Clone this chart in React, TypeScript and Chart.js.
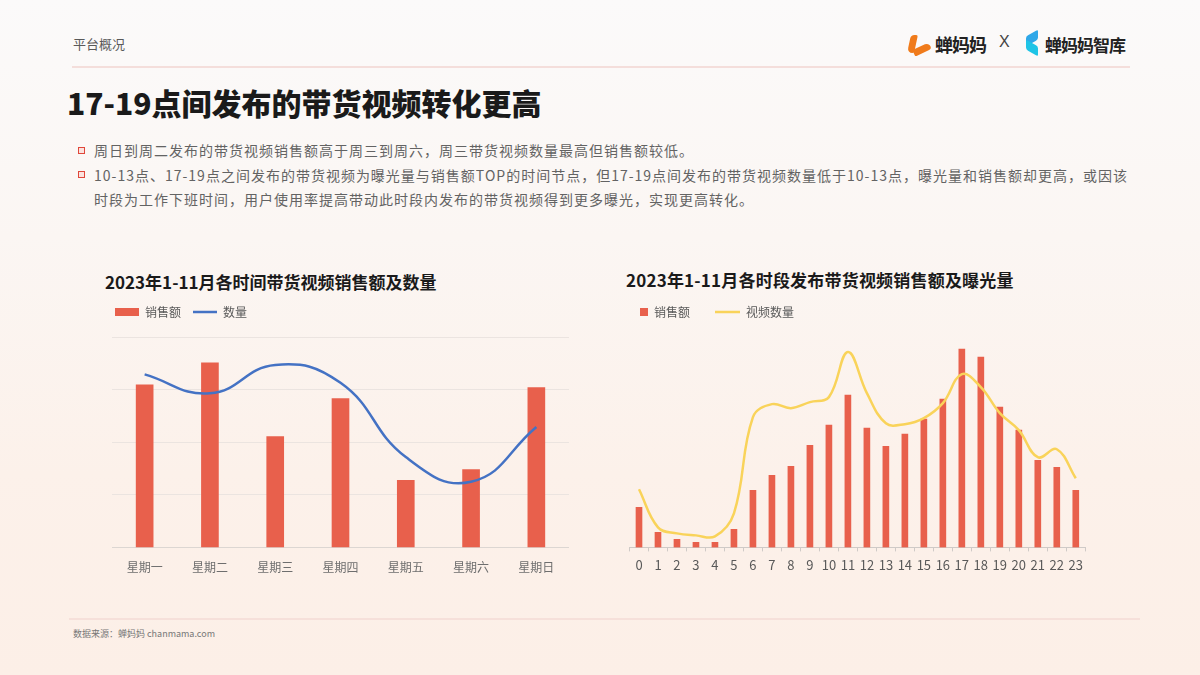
import React, { useEffect, useRef } from "react";
import { Chart, registerables } from "chart.js";

Chart.register(...registerables);

const FONT = "'Noto Sans CJK SC', 'Noto Sans', sans-serif";

// ---- Left chart data (relative units) ----
const weekdays = ["星期一", "星期二", "星期三", "星期四", "星期五", "星期六", "星期日"];
const weekdaySales = [3.09, 3.51, 2.11, 2.83, 1.28, 1.48, 3.04];
const weekdayCount = [3.29, 2.93, 3.47, 3.13, 1.72, 1.25, 2.29];
const weekdayLegend = ["销售额", "数量"];

// ---- Right chart data (relative units) ----
const hours = ["0", "1", "2", "3", "4", "5", "6", "7", "8", "9", "10", "11", "12", "13", "14", "15", "16", "17", "18", "19", "20", "21", "22", "23"];
const hourSales = [40, 15, 8, 5, 5, 18, 57, 72, 81, 102, 122, 152, 119, 101, 113, 128, 148, 198, 190, 140, 117, 87, 80, 57];
const hourCount = [58, 20, 14, 12, 11, 34, 130, 143, 139, 145, 150, 195, 154, 124, 123, 129, 144, 173, 160, 134, 117, 90, 98, 69];
const hourLegend = ["销售额", "视频数量"];

const RED = "#E8604C";
const BLUE = "#4472C4";
const YELLOW = "#F9D35A";

function legendLabels(barStyle: any) {
  return (chart: any) => {
    const items = Chart.defaults.plugins.legend.labels.generateLabels(chart);
    items.sort((a: any, b: any) => a.datasetIndex - b.datasetIndex);
    items.forEach((it: any) => {
      const ds = chart.data.datasets[it.datasetIndex];
      if (ds.type === "bar") {
        it.pointStyle = barStyle;
        it.fillStyle = RED;
        it.lineWidth = 0;
      } else {
        it.pointStyle = "line";
        it.strokeStyle = ds.borderColor;
        it.lineWidth = 2.5;
      }
    });
    return items;
  };
}

function WeekChart() {
  const ref = useRef<HTMLCanvasElement>(null);
  useEffect(() => {
    const chart = new Chart(ref.current!, {
      type: "bar",
      data: {
        labels: weekdays,
        datasets: [
          {
            type: "bar",
            label: weekdayLegend[0],
            data: weekdaySales,
            backgroundColor: RED,
            barThickness: 17,
            order: 1,
          },
          {
            type: "line",
            label: weekdayLegend[1],
            data: weekdayCount,
            borderColor: BLUE,
            backgroundColor: BLUE,
            borderWidth: 2.5,
            pointRadius: 0,
            tension: 0.45,
            order: 0,
          },
        ] as any,
      },
      options: {
        responsive: false,
        animation: false,
        layout: { padding: 0 },
        plugins: {
          tooltip: { enabled: false },
          legend: {
            display: true,
            position: "top",
            align: "start",
            labels: {
              usePointStyle: true,
              pointStyleWidth: 24,
              boxWidth: 24,
              boxHeight: 8,
              padding: 12,
              color: "#595959",
              font: { family: FONT, size: 12 },
              generateLabels: legendLabels("rect"),
            },
          },
        },
        scales: {
          x: {
            grid: { display: false },
            border: { display: true, color: "#dcd6d2" },
            ticks: { color: "#6e6e6e", padding: 5, font: { family: FONT, size: 12 } },
          },
          y: {
            min: 0,
            max: 4.171,
            afterFit: (s: any) => {
              s.width = 9;
            },
            ticks: { display: false, stepSize: 1, includeBounds: false },
            grid: { color: "#ebe4e0", drawTicks: false },
            border: { display: false },
          },
        },
      },
    });
    return () => chart.destroy();
  }, []);
  return <canvas ref={ref} width={466} height={286} style={{ position: "absolute", left: 103, top: 294 }} />;
}

function HourChart() {
  const ref = useRef<HTMLCanvasElement>(null);
  useEffect(() => {
    const img = document.createElement("canvas");
    img.width = 25;
    img.height = 8;
    const ictx = img.getContext("2d")!;
    ictx.fillStyle = RED;
    ictx.fillRect(17, 0, 8, 8);
    const chart = new Chart(ref.current!, {
      type: "bar",
      data: {
        labels: hours,
        datasets: [
          {
            type: "bar",
            label: hourLegend[0],
            data: hourSales,
            backgroundColor: RED,
            barThickness: 6,
            order: 1,
          },
          {
            type: "line",
            label: hourLegend[1],
            data: hourCount,
            borderColor: YELLOW,
            backgroundColor: YELLOW,
            borderWidth: 2.5,
            pointRadius: 0,
            tension: 0.4,
            order: 0,
          },
        ] as any,
      },
      options: {
        responsive: false,
        animation: false,
        layout: { padding: 0 },
        plugins: {
          tooltip: { enabled: false },
          legend: {
            display: true,
            position: "top",
            align: "start",
            labels: {
              usePointStyle: true,
              pointStyleWidth: 25,
              boxWidth: 25,
              boxHeight: 8,
              padding: 25,
              color: "#595959",
              font: { family: FONT, size: 12 },
              generateLabels: legendLabels(img),
            },
          },
        },
        scales: {
          x: {
            grid: { display: true, drawOnChartArea: false, drawTicks: true, tickLength: 4, color: "#cfcac7", offset: true },
            border: { display: true, color: "#cfcac7" },
            ticks: { color: "#595959", padding: 6, maxRotation: 0, autoSkip: false, font: { family: FONT, size: 13 } },
          },
          y: {
            min: 0,
            max: 219,
            afterFit: (s: any) => {
              s.width = 31.5;
            },
            ticks: { display: false },
            grid: { display: false },
            border: { display: false },
          },
        },
      },
    });
    return () => chart.destroy();
  }, []);
  return <canvas ref={ref} width={491} height={298} style={{ position: "absolute", left: 598, top: 281 }} />;
}

function Bullet({ top }: { top: number }) {
  return (
    <div
      style={{
        position: "absolute",
        left: 78,
        top: top - 4,
        width: 5,
        height: 5,
        border: "1.6px solid #E0473A",
        background: "#FBE3DF",
      }}
    />
  );
}

export default function App() {
  const text: React.CSSProperties = { position: "absolute", whiteSpace: "nowrap", fontFamily: FONT };
  return (
    <div
      style={{
        position: "relative",
        width: 1200,
        height: 675,
        overflow: "hidden",
        background: "linear-gradient(180deg, #fbfafa 0%, #fbf6f3 35%, #fcf1ea 70%, #fcefe7 100%)",
        fontFamily: FONT,
      }}
    >
      <style>{`body{margin:0;}`}</style>
      <div style={{ ...text, left: 73, top: 34, fontSize: 13, color: "#595959" }}>平台概况</div>
      {/* logos */}
      <div style={{ position: "absolute", left: 909, top: 33, width: 22, height: 22 }}>
        <div style={{ position: "absolute", left: 0, top: 2, width: 7, height: 18, background: "#F07B1B", borderRadius: "4px 2px 2px 6px", transform: "skewX(-12deg)" }} />
        <div style={{ position: "absolute", left: 4, top: 13, width: 18, height: 7, background: "#F07B1B", borderRadius: "2px 6px 4px 2px", transform: "rotate(-25deg)" }} />
      </div>
      <div style={{ ...text, left: 935, top: 31, fontSize: 18, fontWeight: 700, color: "#222", letterSpacing: -1 }}>蝉妈妈</div>
      <div style={{ ...text, left: 999, top: 33, fontSize: 16, color: "#444", fontFamily: "'Liberation Sans', sans-serif" }}>X</div>
      <div style={{ position: "absolute", left: 1024, top: 33, width: 16, height: 22 }}>
        <div style={{ position: "absolute", left: 2, top: 0, width: 12, height: 10, background: "#2EA7E8", transform: "skewY(-30deg)", borderRadius: 2 }} />
        <div style={{ position: "absolute", left: 2, top: 10, width: 12, height: 10, background: "#1FC4E6", transform: "skewY(30deg)", borderRadius: 2 }} />
      </div>
      <div style={{ ...text, left: 1045, top: 32, fontSize: 17, fontWeight: 700, color: "#222", letterSpacing: -1 }}>蝉妈妈智库</div>
      <div style={{ position: "absolute", left: 72, top: 66, width: 1058, height: 2, background: "#f4dedb" }} />

      <div style={{ ...text, left: 67, top: 80, fontSize: 30, fontWeight: 900, color: "#1a1a1a" }}>17-19点间发布的带货视频转化更高</div>

      <Bullet top={151} />
      <Bullet top={175} />
      <div style={{ ...text, left: 94, top: 140, fontSize: 14, letterSpacing: 1, color: "#636363", lineHeight: "21px" }}>
        周日到周二发布的带货视频销售额高于周三到周六，周三带货视频数量最高但销售额较低。
      </div>
      <div style={{ ...text, left: 94, top: 163, fontSize: 14, letterSpacing: 1, color: "#636363", lineHeight: "24px" }}>
        10-13点、17-19点之间发布的带货视频为曝光量与销售额TOP的时间节点，但17-19点间发布的带货视频数量低于10-13点，曝光量和销售额却更高，或因该
        <br />
        时段为工作下班时间，用户使用率提高带动此时段内发布的带货视频得到更多曝光，实现更高转化。
      </div>

      <div style={{ ...text, left: 105, top: 269, fontSize: 17, fontWeight: 700, color: "#1a1a1a" }}>2023年1-11月各时间带货视频销售额及数量</div>
      <div style={{ ...text, left: 626, top: 267, fontSize: 17, fontWeight: 700, color: "#1a1a1a", letterSpacing: 0.2 }}>2023年1-11月各时段发布带货视频销售额及曝光量</div>

      <WeekChart />
      <HourChart />

      <div style={{ position: "absolute", left: 69, top: 618, width: 1071, height: 2, background: "#f6e0da" }} />
      <div style={{ ...text, left: 73, top: 627, fontSize: 9, color: "#777" }}>数据来源：蝉妈妈 chanmama.com</div>
    </div>
  );
}
